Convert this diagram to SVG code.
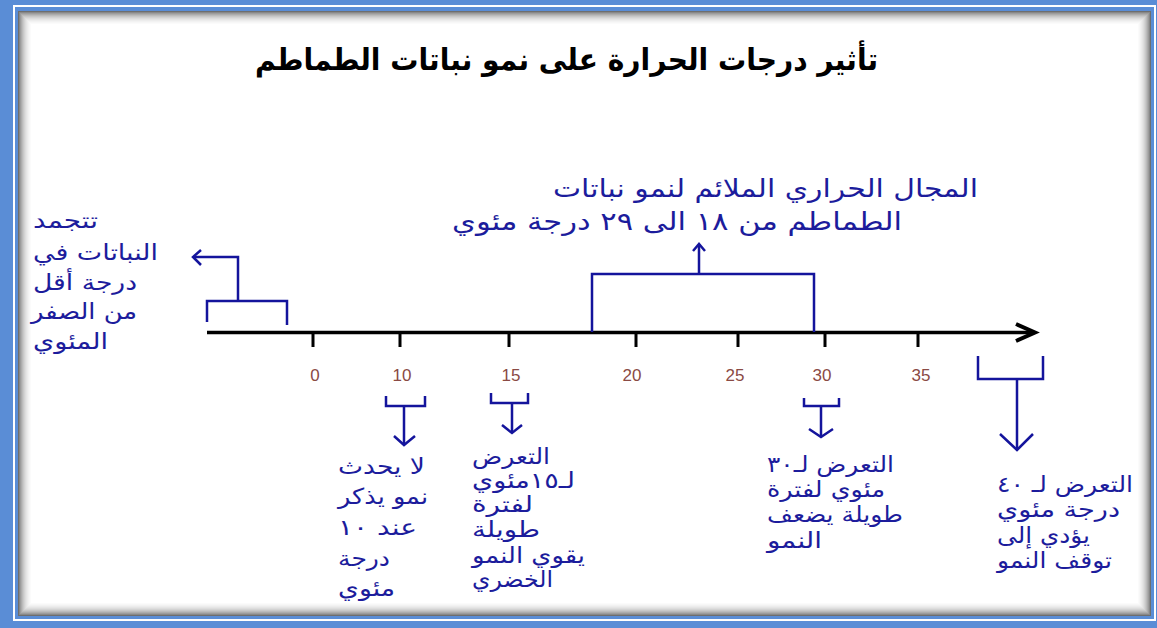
<svg xmlns="http://www.w3.org/2000/svg" width="1157" height="628" viewBox="0 0 1157 628">
<style>
.ln{fill:none;stroke:#14149c;stroke-width:2.5;stroke-linejoin:miter}
.ax{fill:none;stroke:#000;stroke-width:3.5}
.tk{stroke:#000;stroke-width:3}
.t{font-family:"DejaVu Sans",sans-serif;font-size:22px;fill:#1c1c9c}
.o{font-size:25px}
.lb{font-family:"Liberation Sans",sans-serif;font-size:17px;fill:#8a4a44;text-anchor:middle}
.title{font-family:"DejaVu Sans",sans-serif;font-size:30px;font-weight:bold;fill:#000;text-anchor:middle}
</style>
<g id="frame">
<rect x="0" y="0" width="1157" height="628" fill="#5a8dd6"/>
<rect x="14" y="6" width="1141" height="614" fill="none" stroke="#fff" stroke-width="2"/>
<rect x="18" y="11" width="1133" height="605" fill="#fff"/>
<g fill="none" stroke-width="1">
<rect x="18.5" y="11.5" width="1132" height="604" stroke="#6e6e6e"/>
<rect x="19.5" y="12.5" width="1130" height="602" stroke="#888"/>
<rect x="20.5" y="13.5" width="1128" height="600" stroke="#9c9c9c"/>
<rect x="21.5" y="14.5" width="1126" height="598" stroke="#acacac"/>
<rect x="22.5" y="15.5" width="1124" height="596" stroke="#bbb"/>
<rect x="23.5" y="16.5" width="1122" height="594" stroke="#c8c8c8"/>
<rect x="24.5" y="17.5" width="1120" height="592" stroke="#d3d3d3"/>
<rect x="25.5" y="18.5" width="1118" height="590" stroke="#dddddd"/>
<rect x="26.5" y="19.5" width="1116" height="588" stroke="#e5e5e5"/>
<rect x="27.5" y="20.5" width="1114" height="586" stroke="#ececec"/>
<rect x="28.5" y="21.5" width="1112" height="584" stroke="#f2f2f2"/>
<rect x="29.5" y="22.5" width="1110" height="582" stroke="#f7f7f7"/>
<rect x="30.5" y="23.5" width="1108" height="580" stroke="#fbfbfb"/>
</g>
</g>
<g id="title"><text class="title" x="566.5" y="70" textLength="623" lengthAdjust="spacingAndGlyphs">تأثير درجات الحرارة على نمو نباتات الطماطم</text></g>
<g id="axis">
<path class="ax" d="M207,332.5 H1033"/>
<path d="M1016,324 L1035,332.5 L1016,341" fill="none" stroke="#000" stroke-width="4"/>
<path class="tk" d="M313,334 V347 M400,334 V347 M509,334 V347 M636,334 V347 M738,334 V347 M825,334 V347 M918,334 V347"/>
<text class="lb" x="315" y="381">0</text>
<text class="lb" x="402" y="381">10</text>
<text class="lb" x="511" y="381">15</text>
<text class="lb" x="632" y="381">20</text>
<text class="lb" x="735" y="381">25</text>
<text class="lb" x="822" y="381">30</text>
<text class="lb" x="921" y="381">35</text>
</g>
<g id="connectors">
<path class="ln" d="M207,322 V301 H287 V325 M238,301 V257 H193"/>
<path class="ln" d="M201,250 L193,257 L201,265"/>
<path class="ln" d="M592,332 V274 H814 V332 M699,274 V244"/>
<path class="ln" d="M693,251 L699,244 L705,251"/>
<path class="ln" d="M386,396 V406 H425 V396 M404,406 V445"/>
<path class="ln" d="M394,436 L404,445 L415,436"/>
<path class="ln" d="M491,393 V403 H528 V393 M512,403 V433"/>
<path class="ln" d="M502,425 L512,433 L522,425"/>
<path class="ln" d="M804,398 V406 H839 V398 M821,406 V437"/>
<path class="ln" d="M809,429 L821,437 L833,429"/>
<path class="ln" d="M978,356 V379 H1043 V356 M1017,379 V450"/>
<path class="ln" d="M1000,434 L1017,450 L1033,434"/>
</g>
<g id="node-freeze">
<text class="t" x="33" y="228" textLength="65" lengthAdjust="spacingAndGlyphs">تتجمد</text>
<text class="t" x="33" y="260" textLength="125" lengthAdjust="spacingAndGlyphs">النباتات في</text>
<text class="t" x="33" y="290" textLength="104" lengthAdjust="spacingAndGlyphs">درجة أقل</text>
<text class="t" x="31" y="319" textLength="106" lengthAdjust="spacingAndGlyphs">من الصفر</text>
<text class="t" x="33" y="349" textLength="75" lengthAdjust="spacingAndGlyphs">المئوي</text>
</g>
<g id="node-optimal">
<text class="t o" x="553" y="197" textLength="425" lengthAdjust="spacingAndGlyphs">المجال الحراري الملائم لنمو نباتات</text>
<text class="t o" x="452" y="230" textLength="450" lengthAdjust="spacingAndGlyphs">الطماطم من ١٨ الى ٢٩ درجة مئوي</text>
</g>
<g id="node-10">
<text class="t" x="338" y="474" textLength="87" lengthAdjust="spacingAndGlyphs">لا يحدث</text>
<text class="t" x="338" y="504" textLength="90" lengthAdjust="spacingAndGlyphs">نمو يذكر</text>
<text class="t" x="338" y="535" textLength="79" lengthAdjust="spacingAndGlyphs">عند ١٠</text>
<text class="t" x="338" y="566" textLength="52" lengthAdjust="spacingAndGlyphs">درجة</text>
<text class="t" x="338" y="596" textLength="57" lengthAdjust="spacingAndGlyphs">مئوي</text>
</g>
<g id="node-15">
<text class="t" x="472" y="464" textLength="78" lengthAdjust="spacingAndGlyphs">التعرض</text>
<text class="t" x="472" y="488" textLength="103" lengthAdjust="spacingAndGlyphs">لـ١٥مئوي</text>
<text class="t" x="472" y="512" textLength="61" lengthAdjust="spacingAndGlyphs">لفترة</text>
<text class="t" x="472" y="537" textLength="68" lengthAdjust="spacingAndGlyphs">طويلة</text>
<text class="t" x="472" y="563" textLength="113" lengthAdjust="spacingAndGlyphs">يقوي النمو</text>
<text class="t" x="472" y="587" textLength="81" lengthAdjust="spacingAndGlyphs">الخضري</text>
</g>
<g id="node-30">
<text class="t" x="767" y="472" textLength="127" lengthAdjust="spacingAndGlyphs">التعرض لـ٣٠</text>
<text class="t" x="767" y="497" textLength="118" lengthAdjust="spacingAndGlyphs">مئوي لفترة</text>
<text class="t" x="767" y="522" textLength="136" lengthAdjust="spacingAndGlyphs">طويلة يضعف</text>
<text class="t" x="767" y="548" textLength="55" lengthAdjust="spacingAndGlyphs">النمو</text>
</g>
<g id="node-40">
<text class="t" x="997" y="492" textLength="136" lengthAdjust="spacingAndGlyphs">التعرض لـ ٤٠</text>
<text class="t" x="997" y="517" textLength="123" lengthAdjust="spacingAndGlyphs">درجة مئوي</text>
<text class="t" x="997" y="543" textLength="93" lengthAdjust="spacingAndGlyphs">يؤدي إلى</text>
<text class="t" x="997" y="568" textLength="115" lengthAdjust="spacingAndGlyphs">توقف النمو</text>
</g>
</svg>
